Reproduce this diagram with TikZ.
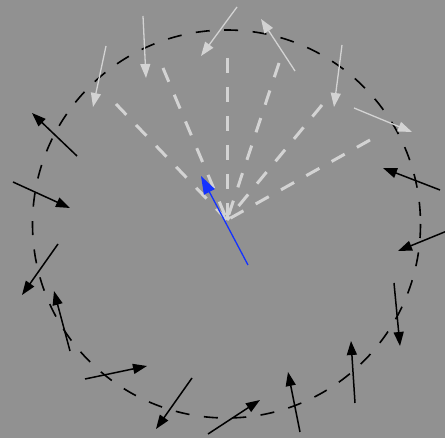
\documentclass[tikz,border=0pt]{standalone}
\usetikzlibrary{arrows.meta}
\definecolor{bg}{RGB}{145,145,145}
\definecolor{lg}{RGB}{211,211,211}
\definecolor{bl}{RGB}{20,50,255}
\begin{document}
\begin{tikzpicture}[x=1pt,y=-1pt,
  ring/.style={black,line width=1.6pt,dash pattern=on 14pt off 14.5pt},
  ray/.style={lg,line width=3pt,dash pattern=on 15pt off 14pt},
  barr/.style={black,line width=1.5pt,-{Triangle[length=14pt,width=10pt]}},
  garr/.style={lg,line width=1.3pt,-{Triangle[length=14pt,width=10pt]}},
  blarr/.style={bl,line width=1.3pt,-{Triangle[length=18pt,width=12pt]}}]
\fill[bg] (0,0) rectangle (445,438);
\useasboundingbox (0,0) rectangle (445,438);
\coordinate (c) at (226.5,224);
\draw[ring] (c) circle[radius=194];
% rays
\coordinate (o) at (227,220);
\foreach \x/\y [count=\i] in {116/104,163/68,227/58,279/63,322/105,370/140}
  \coordinate (r\i) at (\x,\y);
\foreach \i in {1,...,6} \draw[ray] (r\i) -- (o);
% light gray arrows
\foreach \a/\b/\c/\d [count=\i] in {106/46/93/107, 143/16/146/78, 237/7/201/56, 295/71/261/19, 342/45/334/107, 354/108/412/132}{
  \coordinate (gs\i) at (\a,\b); \coordinate (ge\i) at (\c,\d);
  \draw[garr] (gs\i) -- (ge\i);}
% black arrows
\foreach \a/\b/\c/\d [count=\i] in {77/156/32/113, 13/182/70/208, 440/190/383/168, 447/231/398/251, 394/283/400/346, 355/403/351/341, 300/432/288/372, 208/434/260/400, 192/378/156/429, 85/379/147/366, 70/351/54/291, 58/244/22/295}{
  \coordinate (bs\i) at (\a,\b); \coordinate (be\i) at (\c,\d);
  \draw[barr] (bs\i) -- (be\i);}
% blue arrow
\coordinate (us) at (248,265);
\coordinate (ue) at (201,176);
\draw[blarr] (us) -- (ue);
\end{tikzpicture}
\end{document}
